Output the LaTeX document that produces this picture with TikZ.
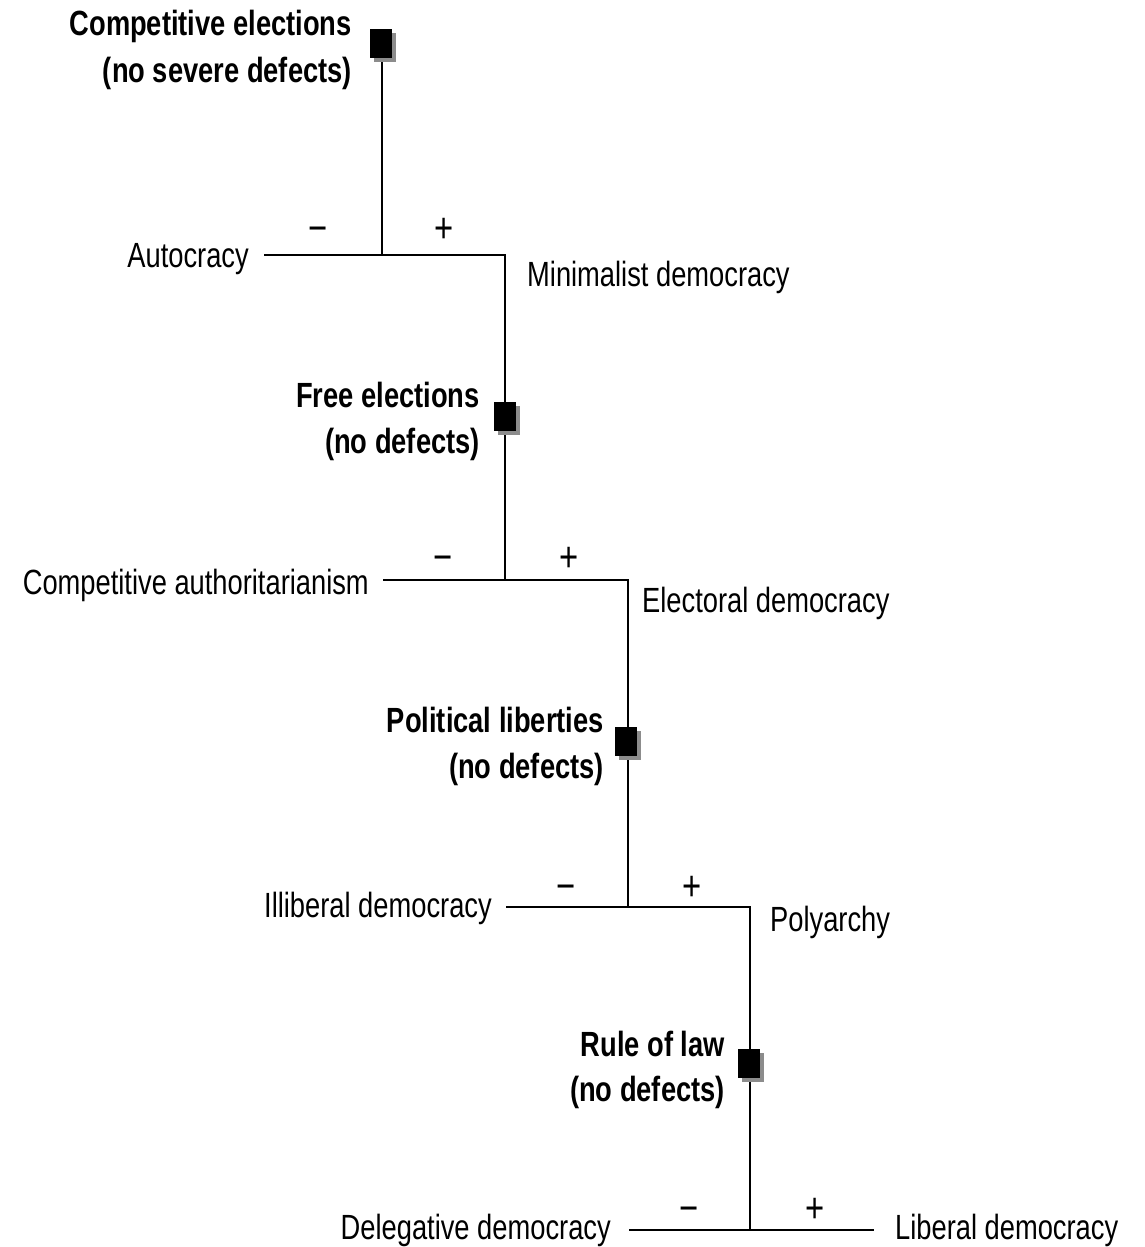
\documentclass[tikz,border=0pt]{standalone}
\usepackage{fontspec}
\setmainfont{Liberation Sans}[FakeStretch=0.78]
\usetikzlibrary{shadows}
\begin{document}
\begin{tikzpicture}[x=1pt,y=-1pt,
  conn/.style={line width=1.6pt, line cap=rect},
  crit/.style={draw=none, fill=black, minimum width=22pt, minimum height=29pt, inner sep=0pt,
    drop shadow={shadow xshift=4pt, shadow yshift=-4pt, fill=black!45, opacity=1}},
  lbl/.style={inner sep=0pt, font=\fontsize{35}{42}\selectfont},
  blbl/.style={inner sep=0pt, font=\fontsize{35}{42}\selectfont\bfseries},
  sgn/.style={inner sep=0pt, anchor=base, font=\fontsize{42}{48}\selectfont}]
\useasboundingbox (0,0) rectangle (1145,1247);
% junctions and corners
\coordinate (top1) at (382,60);
\coordinate (j1) at (382,255);
\coordinate (l1) at (265,255);
\coordinate (c1) at (505,255);
\coordinate (j2) at (505,580);
\coordinate (l2) at (384,580);
\coordinate (c2) at (628,580);
\coordinate (j3) at (628,907);
\coordinate (l3) at (507,907);
\coordinate (c3) at (750,907);
\coordinate (j4) at (750,1230);
\coordinate (l4) at (630,1230);
\coordinate (r4) at (873,1230);
% connectors
\draw[conn] (top1) -- (j1);
\draw[conn] (l1) -- (j1) -- (c1) -- (j2);
\draw[conn] (l2) -- (j2) -- (c2) -- (j3);
\draw[conn] (l3) -- (j3) -- (c3) -- (j4);
\draw[conn] (l4) -- (j4) -- (r4);
% criteria squares
\node[crit] (s1) at (381,44) {};
\node[crit] (s2) at (505,416) {};
\node[crit] (s3) at (626,741) {};
\node[crit] (s4) at (749,1063) {};
% criteria labels
\node[blbl, anchor=base east] (t1a) at (352,36) {Competitive elections};
\node[blbl, anchor=base east] (t1b) at (352,82) {(no severe defects)};
\node[blbl, anchor=base east] (t2a) at (480,407) {Free elections};
\node[blbl, anchor=base east] (t2b) at (480,453) {(no defects)};
\node[blbl, anchor=base east] (t3a) at (604,732) {Political liberties};
\node[blbl, anchor=base east] (t3b) at (604,778) {(no defects)};
\node[blbl, anchor=base east] (t4a) at (725,1056) {Rule of law};
\node[blbl, anchor=base east] (t4b) at (725,1101) {(no defects)};
% regime labels
\node[lbl, anchor=base east] (autoc) at (249,267) {Autocracy};
\node[lbl, anchor=base west] (minim) at (527,286) {Minimalist democracy};
\node[lbl, anchor=base east] (compa) at (369,594) {Competitive authoritarianism};
\node[lbl, anchor=base west] (elect) at (642,612) {Electoral democracy};
\node[lbl, anchor=base east] (illib) at (492,917) {Illiberal democracy};
\node[lbl, anchor=base west] (polya) at (770,931) {Polyarchy};
\node[lbl, anchor=base east] (deleg) at (611,1239) {Delegative democracy};
\node[lbl, anchor=base west] (liber) at (895,1239) {Liberal democracy};
% signs
\node[sgn] (m1) at (318,242) {−};
\node[sgn] (p1) at (444,242) {+};
\node[sgn] (m2) at (443,571) {−};
\node[sgn] (p2) at (569,571) {+};
\node[sgn] (m3) at (566,900) {−};
\node[sgn] (p3) at (692,900) {+};
\node[sgn] (m4) at (689,1222) {−};
\node[sgn] (p4) at (815,1222) {+};
\end{tikzpicture}
\end{document}
